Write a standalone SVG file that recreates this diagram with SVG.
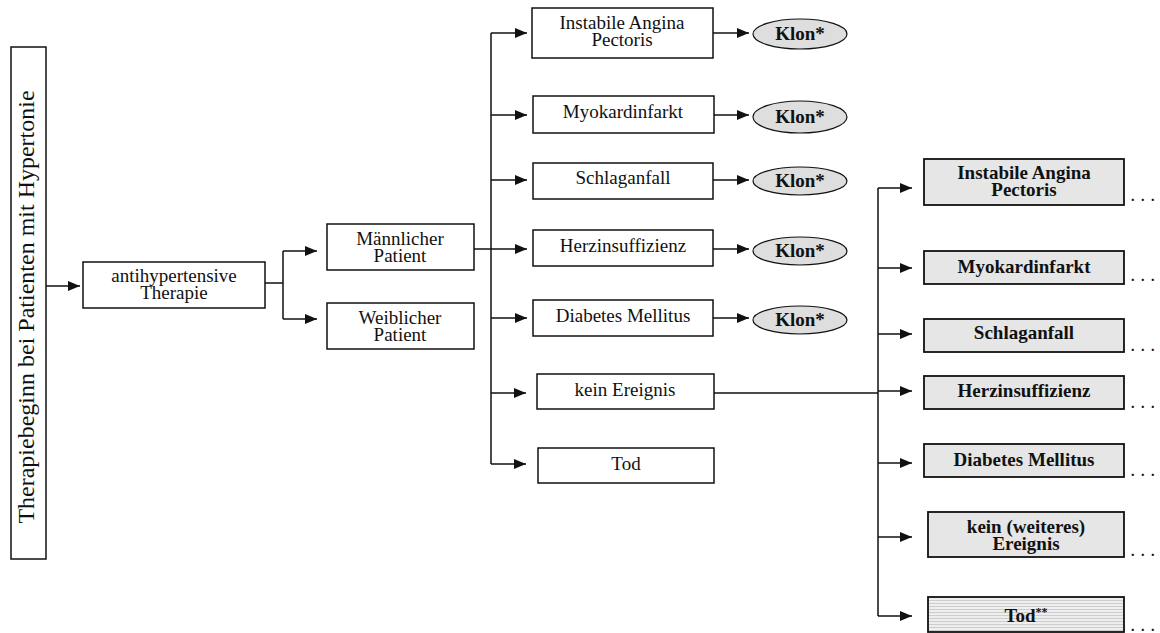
<svg xmlns="http://www.w3.org/2000/svg" width="1160" height="633" viewBox="0 0 1160 633">
<defs>
<marker id="ah" markerWidth="12" markerHeight="10" refX="12" refY="5" orient="auto" markerUnits="userSpaceOnUse"><path d="M0,0 L12,5 L0,10 z" fill="#111"/></marker>
<pattern id="stripes" width="8" height="3" patternUnits="userSpaceOnUse"><rect width="8" height="3" fill="#eeeeee"/><line x1="0" y1="0.5" x2="8" y2="0.5" stroke="#c4c4c4" stroke-width="0.8"/></pattern>
<style>
.box{fill:#fff;stroke:#111;stroke-width:1.5}
.gbox{fill:#e6e6e6;stroke:#111;stroke-width:1.8}
.ell{fill:#dedede;stroke:#111;stroke-width:1.2}
.t{font-family:"Liberation Serif","Times New Roman",serif;font-size:19px;fill:#111;text-anchor:middle}
.b{font-family:"Liberation Serif","Times New Roman",serif;font-size:19px;font-weight:bold;fill:#111;text-anchor:middle}
.dots{font-family:"Liberation Serif","Times New Roman",serif;font-size:14px;font-weight:bold;fill:#111;letter-spacing:6.5px}
.c{fill:none;stroke:#111;stroke-width:1.5}
.a{fill:none;stroke:#111;stroke-width:1.5;marker-end:url(#ah)}
</style>
</defs>
<rect width="1160" height="633" fill="#fff"/>
<g id="connectors">
<path class="a" d="M46,286 H80"/>
<path class="c" d="M265,283 H283 M283,251 V319"/>
<path class="a" d="M283,251 H317"/>
<path class="a" d="M283,319 H317"/>
<path class="c" d="M474,249 H491 M491,33 V464"/>
<path class="a" d="M491,33 H527"/>
<path class="a" d="M491,115 H527"/>
<path class="a" d="M491,180 H527"/>
<path class="a" d="M491,249 H527"/>
<path class="a" d="M491,318 H527"/>
<path class="a" d="M491,393 H526"/>
<path class="a" d="M491,464 H526"/>
<path class="a" d="M713,33 H749"/>
<path class="a" d="M714,115 H749"/>
<path class="a" d="M713,180 H749"/>
<path class="a" d="M713,249 H749"/>
<path class="a" d="M713,318 H749"/>
<path class="c" d="M714,393 H878 M878,188 V616"/>
<path class="a" d="M878,188 H912"/>
<path class="a" d="M878,268 H912"/>
<path class="a" d="M878,334 H912"/>
<path class="a" d="M878,391 H912"/>
<path class="a" d="M878,463 H912"/>
<path class="a" d="M878,537 H912"/>
<path class="a" d="M878,616 H912"/>
</g>
<g id="start"><rect class="box" x="11" y="47" width="35" height="512"/><text class="t" style="font-size:24px" transform="translate(34,307) rotate(-90)">Therapiebeginn bei Patienten mit Hypertonie</text></g>
<g id="antihyp"><rect class="box" x="83" y="262" width="182" height="46"/><text class="t" x="174" y="282">antihypertensive</text><text class="t" x="174" y="299">Therapie</text></g>
<g id="maennlich"><rect class="box" x="327" y="224" width="147" height="46"/><text class="t" x="400" y="245">Männlicher</text><text class="t" x="400" y="262">Patient</text></g>
<g id="weiblich"><rect class="box" x="327" y="303" width="147" height="46"/><text class="t" x="400" y="324">Weiblicher</text><text class="t" x="400" y="341">Patient</text></g>
<g id="m-iap"><rect class="box" x="532" y="8" width="181" height="50"/><text class="t" x="622" y="29">Instabile Angina</text><text class="t" x="622" y="46">Pectoris</text></g>
<g id="m-mi"><rect class="box" x="533" y="96" width="181" height="37"/><text class="t" x="623" y="118">Myokardinfarkt</text></g>
<g id="m-sa"><rect class="box" x="533" y="163" width="180" height="36"/><text class="t" x="623" y="184">Schlaganfall</text></g>
<g id="m-hi"><rect class="box" x="533" y="230" width="180" height="36"/><text class="t" x="623" y="252">Herzinsuffizienz</text></g>
<g id="m-dm"><rect class="box" x="533" y="300" width="180" height="36"/><text class="t" x="623" y="322">Diabetes Mellitus</text></g>
<g id="m-ke"><rect class="box" x="537" y="374" width="177" height="35"/><text class="t" x="625" y="396">kein Ereignis</text></g>
<g id="m-tod"><rect class="box" x="538" y="448" width="176" height="35"/><text class="t" x="626" y="470">Tod</text></g>
<g id="klon1"><ellipse class="ell" cx="800" cy="34" rx="47" ry="15"/><text class="b" x="800" y="40">Klon*</text></g>
<g id="klon2"><ellipse class="ell" cx="800" cy="117" rx="47" ry="16"/><text class="b" x="800" y="123">Klon*</text></g>
<g id="klon3"><ellipse class="ell" cx="800" cy="181" rx="47" ry="14"/><text class="b" x="800" y="187">Klon*</text></g>
<g id="klon4"><ellipse class="ell" cx="800" cy="251" rx="47" ry="14"/><text class="b" x="800" y="257">Klon*</text></g>
<g id="klon5"><ellipse class="ell" cx="800" cy="320" rx="47" ry="14"/><text class="b" x="800" y="326">Klon*</text></g>
<g id="r-iap"><rect class="gbox" x="924" y="159" width="200" height="46"/><text class="b" x="1024" y="179">Instabile Angina</text><text class="b" x="1024" y="196">Pectoris</text><text class="dots" x="1131" y="201">...</text></g>
<g id="r-mi"><rect class="gbox" x="924" y="251" width="200" height="33"/><text class="b" x="1024" y="273">Myokardinfarkt</text><text class="dots" x="1131" y="281">...</text></g>
<g id="r-sa"><rect class="gbox" x="924" y="319" width="200" height="33"/><text class="b" x="1024" y="339">Schlaganfall</text><text class="dots" x="1131" y="351">...</text></g>
<g id="r-hi"><rect class="gbox" x="924" y="376" width="200" height="33"/><text class="b" x="1024" y="397">Herzinsuffizienz</text><text class="dots" x="1131" y="408">...</text></g>
<g id="r-dm"><rect class="gbox" x="924" y="444" width="200" height="33"/><text class="b" x="1024" y="466">Diabetes Mellitus</text><text class="dots" x="1131" y="476">...</text></g>
<g id="r-ke"><rect class="gbox" x="928" y="512" width="196" height="45"/><text class="b" x="1026" y="533">kein (weiteres)</text><text class="b" x="1026" y="550">Ereignis</text><text class="dots" x="1131" y="556">...</text></g>
<g id="r-tod"><rect class="gbox" style="fill:url(#stripes)" x="928" y="597" width="196" height="35"/><text class="b" x="1026" y="622">Tod<tspan style="font-size:12px" dy="-6">**</tspan></text><text class="dots" x="1131" y="631">...</text></g>
</svg>
